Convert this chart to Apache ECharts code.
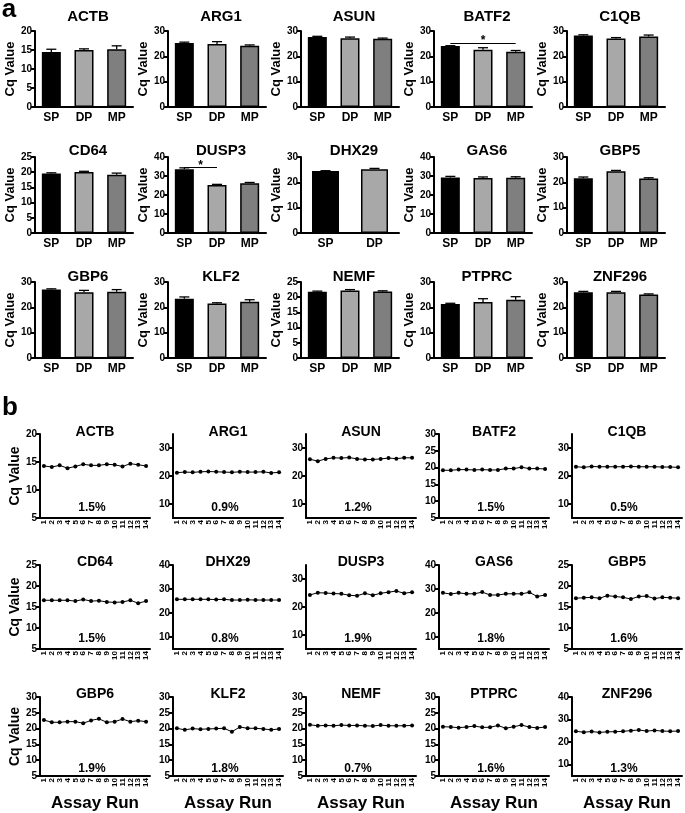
<!DOCTYPE html>
<html>
<head>
<meta charset="UTF-8">
<title>Cq values</title>
<script src="https://cdn.jsdelivr.net/npm/echarts@6/dist/echarts.min.js"></script>
<style>
  html, body { margin: 0; padding: 0; background: #fff; }
  #main { width: 685px; height: 813px; }
</style>
</head>
<body>
<div id="main"></div>
<script>
// ---- panel a: mean Cq per population ----
var groups = ['SP', 'DP', 'MP'];
var groupColors = ['#000000', '#a8a8a8', '#7f7f7f'];
var aGenes = ['ACTB', 'ARG1', 'ASUN', 'BATF2', 'C1QB',
              'CD64', 'DUSP3', 'DHX29', 'GAS6', 'GBP5',
              'GBP6', 'KLF2', 'NEMF', 'PTPRC', 'ZNF296'];
var aMeans = [[14.5, 15.0, 15.2], [25.3, 24.9, 24.2], [27.6, 27.1, 26.9], [24.1, 22.6, 21.8], [28.2, 27.0, 27.8],
              [19.6, 20.1, 19.2], [33.5, 25.3, 26.2], [24.5, 25.2], [29.2, 29.0, 29.1], [21.6, 24.4, 21.5],
              [27.0, 26.0, 26.2], [23.4, 21.5, 22.2], [21.8, 22.2, 21.9], [21.3, 22.1, 23.0], [26.0, 26.0, 25.1]];
var aErrs = [[0.7, 0.3, 0.9], [0.3, 0.9, 0.3], [0.3, 0.5, 0.3], [0.1, 0.8, 0.5], [0.3, 0.4, 0.6],
             [0.2, 0.2, 0.5], [0.8, 0.3, 0.4], [0.1, 0.3], [0.6, 0.5, 0.5], [0.5, 0.3, 0.3],
             [0.3, 0.7, 0.8], [0.7, 0.3, 0.8], [0.2, 0.3, 0.2], [0.3, 1.3, 1.2], [0.3, 0.3, 0.2]];
var aMax = [20, 30, 30, 30, 30, 25, 40, 30, 40, 30, 30, 30, 25, 30, 30];
var aStep = [5, 10, 10, 10, 10, 5, 10, 10, 10, 10, 10, 10, 5, 10, 10];
// significance bars: [from, to, height]
var aSig = {3: ['SP', 'MP', 25.2], 6: ['SP', 'DP', 34.6]};

// ---- panel b: Cq over assay runs ----
var runs = ['1', '2', '3', '4', '5', '6', '7', '8', '9', '10', '11', '12', '13', '14'];
var bGenes = ['ACTB', 'ARG1', 'ASUN', 'BATF2', 'C1QB',
              'CD64', 'DHX29', 'DUSP3', 'GAS6', 'GBP5',
              'GBP6', 'KLF2', 'NEMF', 'PTPRC', 'ZNF296'];
var bValues = [
  [14.3, 14.1, 14.4, 13.9, 14.2, 14.6, 14.4, 14.4, 14.6, 14.5, 14.2, 14.7, 14.5, 14.3],
  [21.2, 21.4, 21.3, 21.5, 21.6, 21.5, 21.4, 21.3, 21.5, 21.4, 21.4, 21.5, 21.1, 21.3],
  [26.0, 25.3, 26.1, 26.5, 26.4, 26.6, 26.1, 25.9, 25.9, 26.1, 26.4, 26.2, 26.5, 26.5],
  [19.2, 19.2, 19.4, 19.4, 19.3, 19.4, 19.3, 19.3, 19.7, 19.7, 20.1, 19.7, 19.7, 19.6],
  [23.3, 23.1, 23.4, 23.3, 23.3, 23.3, 23.3, 23.4, 23.3, 23.3, 23.3, 23.2, 23.2, 23.1],
  [16.6, 16.6, 16.6, 16.6, 16.4, 16.8, 16.4, 16.5, 16.2, 16.1, 16.2, 16.6, 15.9, 16.4],
  [25.7, 25.7, 25.7, 25.7, 25.7, 25.6, 25.7, 25.4, 25.4, 25.5, 25.4, 25.4, 25.4, 25.4],
  [24.3, 25.1, 25.0, 24.8, 24.7, 24.2, 24.0, 24.9, 24.2, 24.9, 25.3, 25.7, 24.9, 25.3],
  [28.4, 27.9, 28.4, 28.0, 28.0, 28.7, 27.5, 27.5, 28.0, 28.0, 28.0, 28.6, 26.9, 27.5],
  [17.1, 17.2, 17.3, 17.1, 17.7, 17.5, 17.3, 16.9, 17.5, 17.6, 17.0, 17.3, 17.2, 17.1],
  [22.7, 22.0, 22.0, 22.2, 22.2, 21.7, 22.6, 23.1, 22.0, 22.2, 23.0, 22.2, 22.5, 22.2],
  [20.1, 19.6, 20.0, 19.8, 19.9, 20.0, 20.1, 19.0, 20.5, 20.1, 20.1, 19.9, 19.6, 19.9],
  [21.2, 20.9, 21.0, 20.9, 21.1, 21.0, 21.0, 20.9, 20.8, 21.1, 20.9, 20.9, 20.9, 21.0],
  [20.6, 20.5, 20.3, 20.5, 20.8, 20.4, 20.4, 21.0, 20.1, 20.6, 21.1, 20.5, 20.2, 20.5],
  [24.8, 24.4, 24.7, 24.3, 24.6, 24.6, 24.8, 25.1, 25.4, 24.9, 25.2, 24.9, 24.8, 24.9]
];
var bMax = [20, 35, 35, 30, 35, 25, 40, 35, 40, 25, 30, 30, 30, 30, 40];
var bTicks = [
  [5, 10, 15, 20], [10, 20, 30], [10, 20, 30], [5, 10, 15, 20, 25, 30], [10, 20, 30],
  [5, 10, 15, 20, 25], [10, 20, 30, 40], [10, 20, 30], [10, 20, 30, 40], [5, 10, 15, 20, 25],
  [5, 10, 15, 20, 25, 30], [5, 10, 15, 20, 25, 30], [5, 10, 15, 20, 25, 30], [5, 10, 15, 20, 25, 30], [10, 20, 30, 40]
];
var bCV = ['1.5%', '0.9%', '1.2%', '1.5%', '0.5%',
           '1.5%', '0.8%', '1.9%', '1.8%', '1.6%',
           '1.9%', '1.8%', '0.7%', '1.6%', '1.3%'];

var FONT = 'Liberation Sans, Arial, sans-serif';
var aTop = [31, 157, 282], aTitleY = [17, 151, 277];
var bTop = [434, 565, 697], bTitleY = [432, 562, 694];

var grids = [], xAxes = [], yAxes = [], series = [], graphics = [];

function txt(x, y, s, size) {
  return { type: 'text', x: x, y: y, silent: true,
    style: { text: s, fill: '#000', fontSize: size, fontWeight: 'bold', fontFamily: FONT,
             textAlign: 'center', textVerticalAlign: 'middle' } };
}

function renderErr(params, api) {
  var base = api.coord([api.value(0), api.value(1)]);
  var tip = api.coord([api.value(0), api.value(1) + api.value(2)]);
  var st = { stroke: '#000', lineWidth: 1.3 };
  return { type: 'group', children: [
    { type: 'line', shape: { x1: base[0], y1: base[1], x2: tip[0], y2: tip[1] }, style: st },
    { type: 'line', shape: { x1: tip[0] - 5, y1: tip[1], x2: tip[0] + 5, y2: tip[1] }, style: st }
  ] };
}

var lineAx = { lineStyle: { color: '#000', width: 2 } };
var tickLbl = { color: '#000', fontWeight: 'bold', fontFamily: FONT };

aGenes.forEach(function (g, i) {
  var col = i % 5, row = Math.floor(i / 5);
  var left = 35 + col * 133, top = aTop[row], w = 98, h = 76;
  var cats = groups.slice(0, aMeans[i].length);
  grids.push({ left: left, top: top, width: w, height: h });
  xAxes.push({ type: 'category', gridIndex: i, data: cats,
    axisLine: lineAx,
    axisTick: { alignWithLabel: true, length: 4, lineStyle: { color: '#000', width: 2.5 } },
    axisLabel: Object.assign({ fontSize: 12, margin: 5 }, tickLbl) });
  yAxes.push({ type: 'value', gridIndex: i, min: 0, max: aMax[i], interval: aStep[i],
    name: 'Cq Value', nameLocation: 'middle', nameGap: 17,
    nameTextStyle: { color: '#000', fontWeight: 'bold', fontSize: 13, fontFamily: FONT },
    axisLine: Object.assign({ show: true }, lineAx),
    axisTick: { show: true, length: 4, lineStyle: { color: '#000', width: 2 } },
    axisLabel: Object.assign({ fontSize: 10, margin: 3 }, tickLbl),
    splitLine: { show: false } });
  var bar = { type: 'bar', xAxisIndex: i, yAxisIndex: i,
    barWidth: cats.length === 2 ? 27 : 19,
    data: aMeans[i].map(function (v, j) {
      return { value: v, itemStyle: { color: groupColors[j], borderColor: '#000', borderWidth: 1.5 } };
    }) };
  if (aSig[i]) {
    var s = aSig[i];
    bar.markLine = { symbol: 'none', silent: true, animation: false,
      lineStyle: { color: '#000', width: 1, type: 'solid' },
      label: { show: true, position: 'middle', formatter: '*', color: '#000',
               fontSize: 12, fontWeight: 'bold', distance: -4 },
      data: [[{ coord: [s[0], s[2]] }, { coord: [s[1], s[2]] }]] };
  }
  series.push(bar);
  series.push({ type: 'custom', xAxisIndex: i, yAxisIndex: i, renderItem: renderErr,
    encode: { x: 0, y: 1 }, z: 5,
    data: aMeans[i].map(function (v, j) { return [j, v, aErrs[i][j]]; }) });
  graphics.push(txt(left + w / 2 + 4, aTitleY[row], g, 15));
});

bGenes.forEach(function (g, i) {
  var k = 15 + i;
  var col = i % 5, row = Math.floor(i / 5);
  var left = 40 + col * 133, top = bTop[row], w = 110, h = row === 2 ? 82 : 84;
  grids.push({ left: left, top: top, width: w, height: h });
  xAxes.push({ type: 'category', gridIndex: k, data: runs,
    name: row === 2 ? 'Assay Run' : '', nameLocation: 'middle', nameGap: 19,
    nameTextStyle: { color: '#000', fontWeight: 'bold', fontSize: 17, fontFamily: FONT },
    axisLine: Object.assign({ onZero: false }, lineAx),
    axisTick: { alignWithLabel: true, length: 3, lineStyle: { color: '#000', width: 1.5 } },
    axisLabel: Object.assign({ fontSize: 8, margin: 2, rotate: 90, interval: 0 }, tickLbl) });
  yAxes.push({ type: 'value', gridIndex: k, min: 5, max: bMax[i],
    name: col === 0 ? 'Cq Value' : '', nameLocation: 'middle', nameGap: 17,
    nameTextStyle: { color: '#000', fontWeight: 'bold', fontSize: 14, fontFamily: FONT },
    axisLine: Object.assign({ show: true }, lineAx),
    axisTick: { show: true, length: 4, customValues: bTicks[i], lineStyle: { color: '#000', width: 2 } },
    axisLabel: Object.assign({ fontSize: 10, margin: 3, customValues: bTicks[i] }, tickLbl),
    splitLine: { show: false } });
  series.push({ type: 'line', xAxisIndex: k, yAxisIndex: k, data: bValues[i],
    symbol: 'circle', symbolSize: 4, showSymbol: true,
    lineStyle: { color: '#000', width: 1 }, itemStyle: { color: '#000' } });
  graphics.push(txt(left + w / 2, bTitleY[row], g, 14));
  graphics.push(txt(left + w / 2 - 3, top + h - 10, bCV[i], 12));
});

graphics.push(txt(9, 10, 'a', 26));
graphics.push(txt(10, 408, 'b', 26));

var chart = echarts.init(document.getElementById('main'));
chart.setOption({
  animation: false,
  textStyle: { fontFamily: FONT },
  grid: grids,
  xAxis: xAxes,
  yAxis: yAxes,
  series: series,
  graphic: graphics
});
</script>
</body>
</html>
